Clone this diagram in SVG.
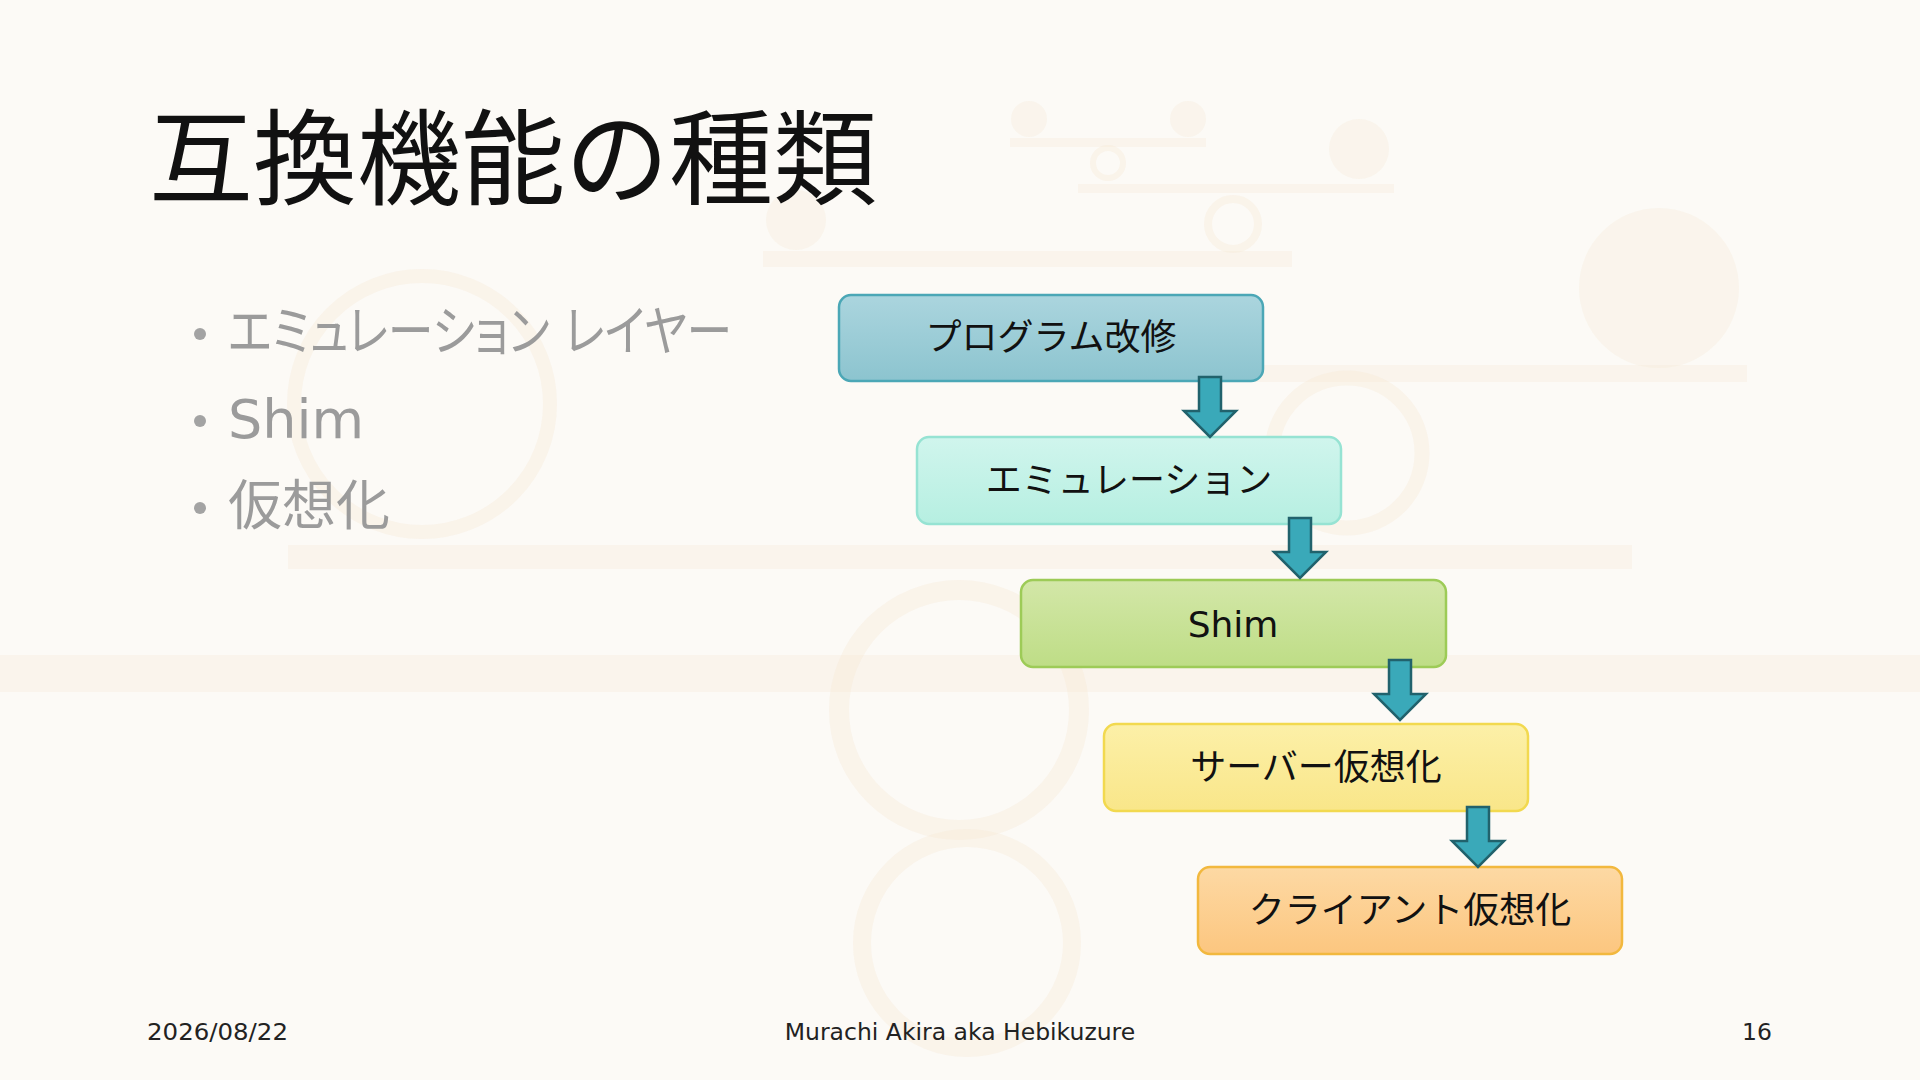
<svg xmlns="http://www.w3.org/2000/svg" xmlns:xlink="http://www.w3.org/1999/xlink" width="1920" height="1080" viewBox="0 0 1920 1080">
<style>
.deco{fill:#f5e8d4;opacity:.3}
.ring{fill:none;stroke:#f5e8d4;opacity:.35}
.box{stroke-width:2.5}
.lbl{font-family:"DejaVu Sans","Noto Sans CJK JP",sans-serif;font-size:36px;fill:#111;text-anchor:middle}
.title{font-family:"Noto Sans CJK JP",sans-serif;font-size:104px;fill:#111}
.bul{font-family:"DejaVu Sans","Noto Sans CJK JP",sans-serif;font-size:54px;fill:#9b9b9b;font-feature-settings:"palt"}
.dot{fill:#a3a3a3}
.foot{font-family:"DejaVu Sans",sans-serif;font-size:23.5px;fill:#222}
.arrow{fill:#3aa9b9;stroke:#21626c;stroke-width:2.5;stroke-linejoin:miter}
</style>
<defs>
<linearGradient id="g1" x1="0" y1="0" x2="0" y2="1"><stop offset="0" stop-color="#abd5de"/><stop offset="1" stop-color="#8cc4cf"/></linearGradient>
<linearGradient id="g2" x1="0" y1="0" x2="0" y2="1"><stop offset="0" stop-color="#d0f5ed"/><stop offset="1" stop-color="#b6efe1"/></linearGradient>
<linearGradient id="g3" x1="0" y1="0" x2="0" y2="1"><stop offset="0" stop-color="#d3e7a8"/><stop offset="1" stop-color="#bedd86"/></linearGradient>
<linearGradient id="g4" x1="0" y1="0" x2="0" y2="1"><stop offset="0" stop-color="#fcf0a8"/><stop offset="1" stop-color="#f9e689"/></linearGradient>
<linearGradient id="g5" x1="0" y1="0" x2="0" y2="1"><stop offset="0" stop-color="#fdd9a4"/><stop offset="1" stop-color="#fcc67f"/></linearGradient>
<path id="arr" class="arrow" d="M-11,0 H11 V34 H26 L0,60 L-26,34 H-11 Z"/>
</defs>
<rect x="0" y="0" width="1920" height="1080" fill="#fcfaf6"/>
<g id="background">
<rect class="deco" x="0" y="655" width="1920" height="37"/>
<rect class="deco" x="1010" y="138" width="196" height="9"/>
<circle class="deco" cx="1029" cy="119" r="18"/>
<circle class="deco" cx="1188" cy="119" r="18"/>
<circle class="ring" cx="1108" cy="163" r="15" stroke-width="6"/>
<rect class="deco" x="1078" y="184" width="316" height="9"/>
<circle class="deco" cx="1359" cy="149" r="30"/>
<circle class="ring" cx="1233" cy="224" r="25" stroke-width="8"/>
<rect class="deco" x="763" y="251" width="529" height="16"/>
<circle class="deco" cx="796" cy="220" r="30"/>
<circle class="deco" cx="1659" cy="288" r="80"/>
<rect class="deco" x="955" y="365" width="792" height="17"/>
<circle class="ring" cx="1347" cy="453" r="75" stroke-width="15"/>
<circle class="ring" cx="422" cy="404" r="128" stroke-width="14"/>
<rect class="deco" x="288" y="545" width="1344" height="24"/>
<circle class="ring" cx="959" cy="710" r="120" stroke-width="20"/>
<circle class="ring" cx="967" cy="943" r="105" stroke-width="18"/>
</g>
<g id="title"><text class="title" x="149" y="197">互換機能の種類</text></g>
<g id="bullets">
<circle class="dot" cx="200" cy="334" r="6"/>
<text class="bul" x="228" y="351" textLength="504" lengthAdjust="spacingAndGlyphs">エミュレーション レイヤー</text>
<circle class="dot" cx="200" cy="421" r="6"/>
<text class="bul" x="228" y="438">Shim</text>
<circle class="dot" cx="200" cy="508" r="6"/>
<text class="bul" x="228" y="525">仮想化</text>
</g>
<g id="node-program">
<rect class="box" x="839" y="295" width="424" height="86" rx="12" fill="url(#g1)" stroke="#4ba7b6"/>
<text class="lbl" x="1051" y="350">プログラム改修</text>
</g>
<g id="node-emulation">
<rect class="box" x="917" y="437" width="424" height="87" rx="12" fill="url(#g2)" stroke="#96e3d3"/>
<text class="lbl" x="1129" y="493">エミュレーション</text>
</g>
<g id="node-shim">
<rect class="box" x="1021" y="580" width="425" height="87" rx="12" fill="url(#g3)" stroke="#9dcb57"/>
<text class="lbl" x="1233" y="637">Shim</text>
</g>
<g id="node-server">
<rect class="box" x="1104" y="724" width="424" height="87" rx="12" fill="url(#g4)" stroke="#f2d94f"/>
<text class="lbl" x="1316" y="780">サーバー仮想化</text>
</g>
<g id="node-client">
<rect class="box" x="1198" y="867" width="424" height="87" rx="12" fill="url(#g5)" stroke="#f2b83e"/>
<text class="lbl" x="1410" y="923">クライアント仮想化</text>
</g>
<g id="connectors">
<use xlink:href="#arr" href="#arr" x="1210" y="377"/>
<use xlink:href="#arr" href="#arr" x="1300" y="518"/>
<use xlink:href="#arr" href="#arr" x="1400" y="660"/>
<use xlink:href="#arr" href="#arr" x="1478" y="807"/>
</g>
<g id="footer">
<text class="foot" x="147" y="1040" textLength="141" lengthAdjust="spacingAndGlyphs">2026/08/22</text>
<text class="foot" x="960" y="1040" text-anchor="middle">Murachi Akira aka Hebikuzure</text>
<text class="foot" x="1772" y="1040" text-anchor="end">16</text>
</g>
</svg>
